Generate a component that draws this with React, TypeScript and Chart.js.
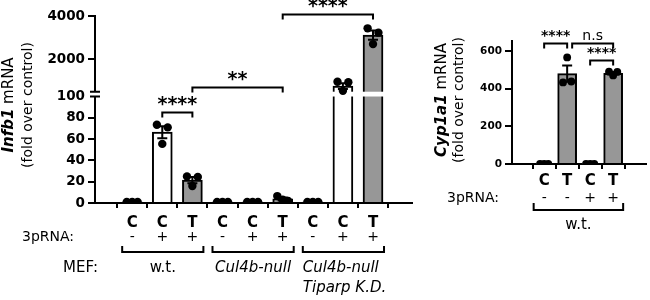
import React, { useEffect, useRef } from 'react';
import { Chart, registerables } from 'chart.js';

Chart.register(...registerables);

// ---------------- Left panel: Infb1 ----------------
const INFB1_CATS = ['C', 'C', 'T', 'C', 'C', 'T', 'C', 'C', 'T'];
const INFB1_3PRNA = ['-', '+', '+', '-', '+', '+', '-', '+', '+'];
const INFB1_MEAN = [1, 66.5, 21.5, 1, 1, 3.8, 1, 760, 3120];
const INFB1_SEM = [0, 5.6, 2.9, 0, 0, 1.4, 0, 135, 215];
const INFB1_POINTS = [
  [1, 1, 1],
  [73.5, 55.5, 71],
  [25, 16, 24.5],
  [1, 1, 1],
  [1, 1, 1],
  [6.5, 3, 2],
  [1, 1, 1],
  [960, 540, 940],
  [3430, 2700, 3230],
];
const INFB1_TICKS = [0, 20, 40, 60, 80, 100, 2000, 4000];
const MEF_GROUPS = [
  { label: ['w.t.'], italic: false, from: 0, to: 2 },
  { label: ['Cul4b-null'], italic: true, from: 3, to: 5 },
  { label: ['Cul4b-null', 'Tiparp K.D.'], italic: true, from: 6, to: 8 },
];
const INFB1_SIG = [
  { from: 1, to: 2, level: 85, text: '****' },
  { from: 2, to: 5, level: 715, text: '**' },
  { from: 5, to: 8, level: 4090, text: '****' },
];

// ---------------- Right panel: Cyp1a1 ----------------
const CYP_CATS = ['C', 'T', 'C', 'T'];
const CYP_3PRNA = ['-', '-', '+', '+'];
const CYP_MEAN = [1, 480, 1, 482];
const CYP_SEM = [0, 43, 0, 6];
const CYP_POINTS = [
  [1, 1, 1],
  [433, 566, 438],
  [1, 1, 1],
  [490, 470, 489],
];
const CYP_TICKS = [0, 200, 400, 600];
const CYP_GROUPS = [{ label: ['w.t.'], italic: false, from: 0, to: 3 }];
const CYP_SIG = [
  { from: 0, to: 1, level: 644, text: '****' },
  { from: 1, to: 3, level: 644, text: 'n.s' },
  { from: 2, to: 3, level: 552, text: '****' },
];

// ---------------- styling ----------------
const FONT = "'DejaVu Sans'";
const GRAY = '#979797';
const JITTER = [-0.18, 0, 0.18];

// broken axis for Infb1: lower segment 0-100, upper segment 500-4000
const BREAK_LOW = 100;
const BREAK_HIGH = 500;
const AXIS_MAX = 4000;
const GAP = 4.5;
const UPPER_SPAN = 71.1;
function brokenDisp(v: number): number {
  if (v <= BREAK_LOW) return v;
  const base = BREAK_LOW + GAP;
  return base + ((Math.max(v, BREAK_HIGH) - BREAK_HIGH) / (AXIS_MAX - BREAK_HIGH)) * UPPER_SPAN;
}
const identity = (v: number) => v;

type PanelCfg = {
  cats: string[];
  signs: string[];
  mean: number[];
  sem: number[];
  points: number[][];
  ticks: number[];
  groups: { label: string[]; italic: boolean; from: number; to: number }[];
  sig: { from: number; to: number; level: number; text: string }[];
  toDisp: (v: number) => number;
  broken: boolean;
  xMin: number;
  xMax: number;
  yMax: number;
  padTop: number;
  padRight: number;
  yWidth: number;
  xHeight: number;
  xTickPad: number;
  barThickness: number;
  dotRadius: number;
  yTickFont: number;
  title: { gene: string; x1: number; x2: number; cy: number };
  rowLabelX: number;
  signY: number;
  groupY: number;
  groupTick: number;
  groupHalf: [number, number];
  groupLabelY: number;
  groupAlign: string[];
  mefLabel: boolean;
  starSize: number;
  starLift: number;
  nsSize: number;
};

function drawRotated(ctx: CanvasRenderingContext2D, cx: number, cy: number, parts: { text: string; font: string }[]) {
  ctx.save();
  ctx.translate(cx, cy);
  ctx.rotate(-Math.PI / 2);
  ctx.textBaseline = 'middle';
  ctx.textAlign = 'left';
  let total = 0;
  const widths = parts.map((p) => {
    ctx.font = p.font;
    const w = ctx.measureText(p.text).width;
    total += w;
    return w;
  });
  let x = -total / 2;
  parts.forEach((p, i) => {
    ctx.font = p.font;
    ctx.fillText(p.text, x, 0);
    x += widths[i];
  });
  ctx.restore();
}

function annotations(cfg: PanelCfg) {
  return {
    id: 'annot',
    afterDatasetDraw(chart: any, args: any) {
      if (args.index !== 0) return;
      const { ctx, chartArea } = chart;
      const x = chart.scales.x;
      const y = chart.scales.y;
      ctx.save();
      ctx.strokeStyle = '#000';
      ctx.lineWidth = 2;
      cfg.mean.forEach((m, i) => {
        const s = cfg.sem[i];
        if (!s) return;
        const px = x.getPixelForValue(i);
        const t = y.getPixelForValue(cfg.toDisp(m + s));
        const b = y.getPixelForValue(cfg.toDisp(m - s));
        ctx.beginPath();
        ctx.moveTo(px, t);
        ctx.lineTo(px, b);
        ctx.moveTo(px - 5, t);
        ctx.lineTo(px + 5, t);
        ctx.moveTo(px - 5, b);
        ctx.lineTo(px + 5, b);
        ctx.stroke();
      });
      if (cfg.broken) {
        const yLow = y.getPixelForValue(BREAK_LOW);
        const yHigh = y.getPixelForValue(BREAK_LOW + GAP);
        ctx.fillStyle = '#fff';
        ctx.fillRect(chartArea.left - 2, yHigh, chartArea.right - chartArea.left + 2, yLow - yHigh);
        ctx.beginPath();
        ctx.moveTo(chartArea.left - 5, yHigh);
        ctx.lineTo(chartArea.left + 5, yHigh);
        ctx.moveTo(chartArea.left - 5, yLow);
        ctx.lineTo(chartArea.left + 5, yLow);
        ctx.stroke();
      }
      ctx.restore();
    },
    afterDraw(chart: any) {
      const { ctx } = chart;
      const x = chart.scales.x;
      const y = chart.scales.y;
      ctx.save();
      ctx.fillStyle = '#000';
      ctx.strokeStyle = '#000';
      // axis title
      drawRotated(ctx, cfg.title.x1, cfg.title.cy, [
        { text: cfg.title.gene, font: `italic bold 15px ${FONT}` },
        { text: ' mRNA', font: `15px ${FONT}` },
      ]);
      drawRotated(ctx, cfg.title.x2, cfg.title.cy, [{ text: '(fold over control)', font: `14px ${FONT}` }]);

      // 3pRNA row
      ctx.textBaseline = 'middle';
      ctx.font = `14px ${FONT}`;
      ctx.textAlign = 'left';
      ctx.fillText('3pRNA:', cfg.rowLabelX, cfg.signY);
      ctx.textAlign = 'center';
      cfg.signs.forEach((s, i) => ctx.fillText(s, x.getPixelForValue(i), cfg.signY));

      // group brackets
      ctx.lineWidth = 2;
      cfg.groups.forEach((g, gi) => {
        const l = x.getPixelForValue(g.from) - cfg.groupHalf[0];
        const r = x.getPixelForValue(g.to) + cfg.groupHalf[1];
        ctx.beginPath();
        ctx.moveTo(l, cfg.groupY - cfg.groupTick);
        ctx.lineTo(l, cfg.groupY);
        ctx.lineTo(r, cfg.groupY);
        ctx.lineTo(r, cfg.groupY - cfg.groupTick);
        ctx.stroke();
        ctx.font = `${g.italic ? 'italic ' : ''}15px ${FONT}`;
        const align = cfg.groupAlign[gi] || 'center';
        ctx.textAlign = align as CanvasTextAlign;
        const tx = align === 'left' ? l : (l + r) / 2;
        g.label.forEach((line, li) => ctx.fillText(line, tx, cfg.groupLabelY + li * 20));
      });
      if (cfg.mefLabel) {
        ctx.font = `15px ${FONT}`;
        ctx.textAlign = 'left';
        ctx.fillText('MEF:', 63, cfg.groupLabelY);
      }

      // significance brackets
      cfg.sig.forEach((s, si) => {
        let l = x.getPixelForValue(s.from);
        const r = x.getPixelForValue(s.to);
        const clash = cfg.sig.some((o, oi) => oi < si && o.level === s.level && o.to === s.from);
        if (clash) l += 5;
        const ly = Math.round(y.getPixelForValue(cfg.toDisp(s.level))) + 0.5;
        ctx.lineWidth = 2;
        ctx.beginPath();
        ctx.moveTo(l, ly + 5);
        ctx.lineTo(l, ly);
        ctx.lineTo(r, ly);
        ctx.lineTo(r, ly + 5);
        ctx.stroke();
        ctx.textAlign = 'center';
        ctx.textBaseline = 'alphabetic';
        if (s.text === 'n.s') {
          ctx.font = `${cfg.nsSize}px ${FONT}`;
          ctx.fillText(s.text, (l + r) / 2, ly - 4);
        } else {
          ctx.font = `bold ${cfg.starSize}px ${FONT}`;
          ctx.fillText(s.text, (l + r) / 2, ly - 9 - cfg.starLift + cfg.starSize * 0.6);
        }
      });
      ctx.restore();
    },
  };
}

function makeConfig(cfg: PanelCfg): any {
  const bars = cfg.mean.map((m, i) => ({ x: i, y: cfg.toDisp(m) }));
  const dots = cfg.points.flatMap((arr, i) => arr.map((v, j) => ({ x: i + JITTER[j], y: cfg.toDisp(v) })));
  return {
    type: 'bar',
    data: {
      datasets: [
        {
          type: 'bar',
          data: bars,
          backgroundColor: cfg.cats.map((c) => (c === 'T' ? GRAY : '#ffffff')),
          borderColor: '#000',
          borderWidth: 2,
          barThickness: cfg.barThickness,
          order: 2,
        },
        {
          type: 'scatter',
          data: dots,
          pointRadius: cfg.dotRadius,
          pointBackgroundColor: '#000',
          pointBorderWidth: 0,
          order: 1,
        },
      ],
    },
    options: {
      responsive: false,
      animation: false,
      devicePixelRatio: 1,
      layout: { padding: { left: 0, top: cfg.padTop, right: cfg.padRight, bottom: 0 } },
      plugins: { legend: { display: false }, tooltip: { enabled: false } },
      scales: {
        x: {
          type: 'linear',
          min: cfg.xMin,
          max: cfg.xMax,
          afterFit: (s: any) => {
            s.height = cfg.xHeight;
          },
          afterBuildTicks: (s: any) => {
            s.ticks = cfg.cats.map((_, i) => ({ value: i }));
          },
          ticks: {
            callback: (v: number) => cfg.cats[v],
            font: { family: FONT, size: 15, weight: 'bold' },
            color: '#000',
            padding: cfg.xTickPad,
            autoSkip: false,
            maxRotation: 0,
          },
          grid: { drawOnChartArea: false, drawTicks: true, tickLength: 5, color: '#000', lineWidth: 2 },
          border: { color: '#000', width: 2 },
        },
        y: {
          type: 'linear',
          min: 0,
          max: cfg.yMax,
          afterFit: (s: any) => {
            s.width = cfg.yWidth;
          },
          afterBuildTicks: (s: any) => {
            s.ticks = cfg.ticks.map((t) => ({ value: cfg.toDisp(t) }));
          },
          ticks: {
            callback: (_v: number, i: number) => String(cfg.ticks[i]),
            font: { family: FONT, size: cfg.yTickFont, weight: 'bold' },
            color: '#000',
            padding: 3,
            autoSkip: false,
          },
          grid: {
            drawOnChartArea: false,
            drawTicks: true,
            tickLength: 7,
            lineWidth: 2,
            color: (c: any) => (cfg.broken && c.tick && c.tick.value === BREAK_LOW ? 'rgba(0,0,0,0)' : '#000'),
          },
          border: { color: '#000', width: 2 },
        },
      },
    },
    plugins: [annotations(cfg)],
  };
}

const LEFT: PanelCfg = {
  cats: INFB1_CATS,
  signs: INFB1_3PRNA,
  mean: INFB1_MEAN,
  sem: INFB1_SEM,
  points: INFB1_POINTS,
  ticks: INFB1_TICKS,
  groups: MEF_GROUPS,
  sig: INFB1_SIG,
  toDisp: brokenDisp,
  broken: true,
  xMin: -0.65,
  xMax: 8.71,
  yMax: brokenDisp(AXIS_MAX),
  padTop: 16,
  padRight: 238,
  yWidth: 95,
  xHeight: 97,
  xTickPad: 6,
  barThickness: 20,
  dotRadius: 4.2,
  yTickFont: 13.5,
  title: { gene: 'Infb1', x1: 9, x2: 28, cy: 105 },
  rowLabelX: 22,
  signY: 237.5,
  groupY: 252,
  groupTick: 6,
  groupHalf: [10, 11],
  groupLabelY: 268,
  groupAlign: ['center', 'center', 'left'],
  mefLabel: true,
  starSize: 19,
  starLift: 5,
  nsSize: 14,
};

const RIGHT: PanelCfg = {
  cats: CYP_CATS,
  signs: CYP_3PRNA,
  mean: CYP_MEAN,
  sem: CYP_SEM,
  points: CYP_POINTS,
  ticks: CYP_TICKS,
  groups: CYP_GROUPS,
  sig: CYP_SIG,
  toDisp: identity,
  broken: false,
  xMin: -0.67,
  xMax: 3.7,
  yMax: 653,
  padTop: 41,
  padRight: 1,
  yWidth: 512,
  xHeight: 136,
  xTickPad: 3,
  barThickness: 19,
  dotRadius: 3.9,
  yTickFont: 10.5,
  title: { gene: 'Cyp1a1', x1: 442, x2: 459, cy: 100 },
  rowLabelX: 447,
  signY: 198,
  groupY: 210,
  groupTick: 7,
  groupHalf: [10.5, 10],
  groupLabelY: 225,
  groupAlign: ['center'],
  mefLabel: false,
  starSize: 14,
  starLift: 3,
  nsSize: 14,
};

export default function App() {
  const leftRef = useRef<HTMLCanvasElement>(null);
  const rightRef = useRef<HTMLCanvasElement>(null);
  useEffect(() => {
    const c1 = new Chart(leftRef.current as HTMLCanvasElement, makeConfig(LEFT));
    const c2 = new Chart(rightRef.current as HTMLCanvasElement, makeConfig(RIGHT));
    return () => {
      c1.destroy();
      c2.destroy();
    };
  }, []);
  const cs: React.CSSProperties = { position: 'absolute', left: 0, top: 0, width: 650, height: 300 };
  return (
    <div style={{ position: 'absolute', left: 0, top: 0, width: 650, height: 300, background: '#fff' }}>
      <canvas ref={leftRef} width={650} height={300} style={cs} />
      <canvas ref={rightRef} width={650} height={300} style={cs} />
    </div>
  );
}
